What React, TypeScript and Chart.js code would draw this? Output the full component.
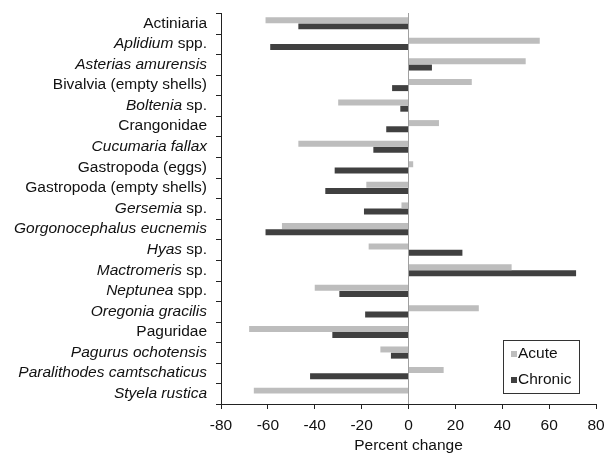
import React, { useEffect, useRef } from "react";
import { Chart, registerables } from "chart.js";

Chart.register(...registerables);

const categories = [
  "Actiniaria",
  "Aplidium spp.",
  "Asterias amurensis",
  "Bivalvia (empty shells)",
  "Boltenia sp.",
  "Crangonidae",
  "Cucumaria fallax",
  "Gastropoda (eggs)",
  "Gastropoda (empty shells)",
  "Gersemia sp.",
  "Gorgonocephalus eucnemis",
  "Hyas sp.",
  "Mactromeris sp.",
  "Neptunea spp.",
  "Oregonia gracilis",
  "Paguridae",
  "Pagurus ochotensis",
  "Paralithodes camtschaticus",
  "Styela rustica",
];

// italic (genus/species) part at the start of each label
const italicParts = [
  "",
  "Aplidium",
  "Asterias amurensis",
  "",
  "Boltenia",
  "",
  "Cucumaria fallax",
  "",
  "",
  "Gersemia",
  "Gorgonocephalus eucnemis",
  "Hyas",
  "Mactromeris",
  "Neptunea",
  "Oregonia gracilis",
  "",
  "Pagurus ochotensis",
  "Paralithodes camtschaticus",
  "Styela rustica",
];

const acute = [-61, 56, 50, 27, -30, 13, -47, 2, -18, -3, -54, -17, 44, -40, 30, -68, -12, 15, -66];
const chronic = [-47, -59, 10, -7, -3.5, -9.5, -15, -31.5, -35.5, -19, -61, 23, 71.5, -29.5, -18.5, -32.5, -7.5, -42, null];

const xTicks = [-80, -60, -40, -20, 0, 20, 40, 60, 80];

const FONT = "'Liberation Sans', Arial, sans-serif";
const FS = 15.5;

const labelPlugin = {
  id: "mixedLabels",
  afterDraw(chart: any) {
    const ctx = chart.ctx;
    const y = chart.scales.y;
    const left = chart.chartArea.left;
    const xEnd = left - 14;
    ctx.save();
    // tick marks between categories
    ctx.strokeStyle = "#222";
    ctx.lineWidth = 1;
    ctx.beginPath();
    for (let i = 0; i <= categories.length; i++) {
      const py = Math.round(y.getPixelForValue(i - 0.5)) + 0.5;
      ctx.moveTo(left - 5, py);
      ctx.lineTo(left, py);
    }
    ctx.stroke();
    ctx.fillStyle = "#111";
    ctx.textBaseline = "middle";
    ctx.textAlign = "right";
    categories.forEach((lab, i) => {
      const py = y.getPixelForValue(i);
      const it = italicParts[i];
      const rest = lab.slice(it.length);
      ctx.font = `${FS}px ${FONT}`;
      const restW = rest ? ctx.measureText(rest).width : 0;
      if (rest) ctx.fillText(rest, xEnd, py);
      if (it) {
        ctx.font = `italic ${FS}px ${FONT}`;
        ctx.fillText(it, xEnd - restW, py);
      }
    });
    ctx.restore();
  },
};

const legendPlugin = {
  id: "boxLegend",
  afterDraw(chart: any) {
    const ctx = chart.ctx;
    const ca = chart.chartArea;
    const w = 76;
    const h = 53;
    const x0 = ca.right - 17 - w;
    const y0 = ca.bottom - 11 - h;
    ctx.save();
    ctx.fillStyle = "#fff";
    ctx.fillRect(x0, y0, w, h);
    ctx.strokeStyle = "#333";
    ctx.lineWidth = 1;
    ctx.strokeRect(x0 + 0.5, y0 + 0.5, w, h);
    ctx.font = `${FS}px ${FONT}`;
    ctx.textBaseline = "middle";
    ctx.textAlign = "left";
    chart.data.datasets.forEach((ds: any, i: number) => {
      const cy = y0 + 14 + i * 26;
      ctx.fillStyle = ds.backgroundColor;
      ctx.fillRect(x0 + 8, cy - 3, 6, 6);
      ctx.fillStyle = "#111";
      ctx.fillText(ds.label, x0 + 15, cy);
    });
    ctx.restore();
  },
};

export default function App() {
  const ref = useRef<HTMLCanvasElement>(null);
  useEffect(() => {
    document.body.style.margin = "0";
    const chart = new Chart(ref.current!, {
      type: "bar",
      data: {
        labels: categories,
        datasets: [
          { label: "Acute", data: acute, backgroundColor: "#bdbdbd", borderWidth: 0 },
          { label: "Chronic", data: chronic as any, backgroundColor: "#404040", borderWidth: 0 },
        ],
      },
      options: {
        indexAxis: "y",
        responsive: false,
        animation: false,
        events: [],
        datasets: { bar: { categoryPercentage: 0.6, barPercentage: 0.97 } } as any,
        layout: { padding: { top: 13, right: 10, left: 0, bottom: 0 } },
        plugins: { legend: { display: false }, tooltip: { enabled: false } },
        scales: {
          x: {
            type: "linear",
            min: -80,
            max: 80,
            afterBuildTicks: (s: any) => {
              s.ticks = xTicks.map((v) => ({ value: v }));
            },
            afterFit: (s: any) => {
              s.height = 52;
              s.paddingLeft = 0;
              s.paddingRight = 0;
            },
            ticks: {
              color: "#111",
              font: { family: FONT, size: FS },
              padding: 7,
              maxRotation: 0,
            },
            grid: {
              color: (c: any) => (c.tick && c.tick.value === 0 ? "#a0a0a0" : "rgba(0,0,0,0)"),
              tickColor: "#222",
              tickLength: 5,
              lineWidth: 1,
            },
            border: { display: true, color: "#222", width: 1 },
            title: {
              display: true,
              text: "Percent change",
              color: "#111",
              font: { family: FONT, size: FS },
              padding: { top: 0, bottom: 1 },
            },
          },
          y: {
            type: "category",
            offset: true,
            afterFit: (s: any) => {
              s.width = 221;
            },
            ticks: { color: "rgba(0,0,0,0)", font: { family: FONT, size: FS } },
            grid: {
              display: false,
            },
            border: { display: true, color: "#222", width: 1 },
          },
        },
      },
      plugins: [labelPlugin, legendPlugin],
    });
    return () => chart.destroy();
  }, []);
  return (
    <canvas
      ref={ref}
      width={606}
      height={456}
      style={{ position: "absolute", left: 0, top: 0, width: 606, height: 456 }}
    />
  );
}
